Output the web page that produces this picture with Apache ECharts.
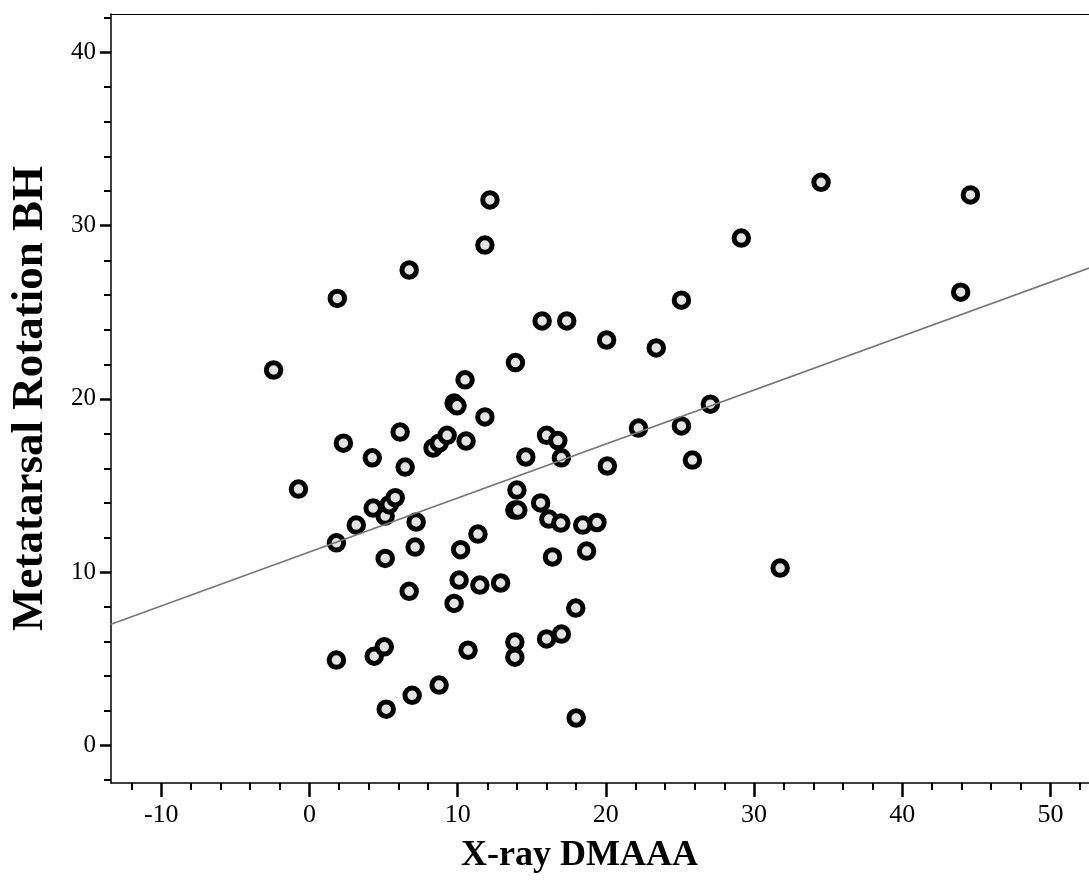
<!DOCTYPE html>
<html>
<head>
<meta charset="utf-8">
<script src="https://cdn.jsdelivr.net/npm/echarts@6/dist/echarts.min.js"></script>
<style>
html,body{margin:0;padding:0;background:#fff;}
#chart{width:1089px;height:881px;}
</style>
</head>
<body>
<div id="chart"></div>
<script>
// Data
var xValues = [-2.42,-0.74,1.88,1.82,1.82,2.29,3.16,4.24,4.30,4.37,5.11,5.38,5.79,5.11,5.05,5.18,6.12,6.46,6.73,6.73,7.20,7.13,6.93,8.34,8.75,9.29,8.75,9.76,9.96,9.76,10.10,10.20,10.50,10.57,10.70,11.37,11.50,11.84,11.84,12.18,12.90,13.90,14.00,13.86,14.06,13.86,13.86,14.60,15.70,15.60,16.00,16.15,16.00,16.40,16.76,17.00,16.96,17.00,17.36,17.97,18.00,18.44,18.70,19.40,20.05,20.10,22.20,23.40,25.10,25.10,25.84,27.05,29.14,31.76,34.52,43.94,44.60];
var yValues = [21.67,14.80,25.80,11.70,4.93,17.45,12.72,16.60,13.70,5.16,13.24,13.90,14.30,10.80,5.70,2.10,18.09,16.07,27.44,8.90,12.90,11.45,2.90,17.17,17.45,17.90,3.49,19.76,19.60,8.20,9.55,11.30,21.10,17.57,5.50,12.20,9.26,18.96,28.88,31.48,9.38,22.10,14.74,13.59,13.59,5.97,5.10,16.65,24.50,14.00,17.90,13.07,6.15,10.88,17.60,16.60,12.84,6.43,24.50,7.93,1.59,12.72,11.22,12.87,23.40,16.13,18.32,22.94,25.70,18.44,16.47,19.70,29.28,10.24,32.50,26.16,31.77];
// Fit line end points (as drawn in the reference)
var fitX = [-13.39, 52.6];
var fitY = [7.0, 27.55];
// Axis ticks
var xMajorTicks = [-10, 0, 10, 20, 30, 40, 50];
var xMinorTicks = [-12, -8, -6, -4, -2, 2, 4, 6, 8, 12, 14, 16, 18, 22, 24, 26, 28, 32, 34, 36, 38, 42, 44, 46, 48, 52];
var yMajorTicks = [0, 10, 20, 30, 40];
var yMinorTicks = [-2, 2, 4, 6, 8, 12, 14, 16, 18, 22, 24, 26, 28, 32, 34, 36, 38, 42];
var xRange = [-13.39, 52.6];
var yRange = [-2.16, 42.21];
var xTitle = 'X-ray DMAAA';
var yTitle = 'Metatarsal Rotation BH';

var points = xValues.map(function (x, i) { return [x, yValues[i]]; });
var fitLine = fitX.map(function (x, i) { return [x, fitY[i]]; });

var serif = '"Liberation Serif", "Times New Roman", serif';

var chart = echarts.init(document.getElementById('chart'));
chart.setOption({
  backgroundColor: '#ffffff',
  animation: false,
  grid: { left: 108, top: 14, right: 0, bottom: 98 },
  xAxis: [
    {
      type: 'value', min: xRange[0], max: xRange[1], position: 'bottom',
      name: xTitle, nameLocation: 'middle', nameGap: 55,
      nameTextStyle: { fontFamily: serif, fontWeight: 'bold', fontSize: 36, color: '#000', padding: [0, 41, 0, 0] },
      axisLine: { show: true, onZero: false, lineStyle: { color: '#000', width: 1.5 } },
      axisTick: { show: true, length: 14, inside: false, customValues: xMajorTicks, lineStyle: { color: '#000', width: 2.5 } },
      axisLabel: { show: true, customValues: xMajorTicks, fontFamily: serif, fontSize: 26, color: '#000', margin: 19 },
      splitLine: { show: false }
    },
    {
      type: 'value', min: xRange[0], max: xRange[1], position: 'bottom',
      axisLine: { show: false, onZero: false },
      axisTick: { show: true, length: 7, customValues: xMinorTicks, lineStyle: { color: '#000', width: 2 } },
      axisLabel: { show: false },
      splitLine: { show: false }
    },
    {
      type: 'value', min: xRange[0], max: xRange[1], position: 'top',
      axisLine: { show: true, onZero: false, lineStyle: { color: '#000', width: 1 } },
      axisTick: { show: false }, axisLabel: { show: false }, splitLine: { show: false }
    }
  ],
  yAxis: [
    {
      type: 'value', min: yRange[0], max: yRange[1], position: 'left',
      name: yTitle, nameLocation: 'middle', nameGap: 58, nameRotate: 90,
      nameTextStyle: { fontFamily: serif, fontWeight: 'bold', fontSize: 45, color: '#000' },
      axisLine: { show: true, onZero: false, lineStyle: { color: '#000', width: 1.5 } },
      axisTick: { show: true, length: 11, customValues: yMajorTicks, lineStyle: { color: '#000', width: 2.5 } },
      axisLabel: { show: true, customValues: yMajorTicks, fontFamily: serif, fontSize: 25, color: '#000', margin: 15 },
      splitLine: { show: false }
    },
    {
      type: 'value', min: yRange[0], max: yRange[1], position: 'left',
      axisLine: { show: false, onZero: false },
      axisTick: { show: true, length: 7, customValues: yMinorTicks, lineStyle: { color: '#000', width: 2 } },
      axisLabel: { show: false },
      splitLine: { show: false }
    }
  ],
  series: [
    {
      type: 'scatter', xAxisIndex: 0, yAxisIndex: 0, data: points,
      symbol: 'circle', symbolSize: 14.5,
      itemStyle: { color: '#e3e3e3', borderColor: '#000', borderWidth: 5, opacity: 1 },
      z: 2
    },
    {
      type: 'line', xAxisIndex: 0, yAxisIndex: 0, data: fitLine,
      showSymbol: false, symbol: 'none',
      lineStyle: { color: '#777', width: 1.6 },
      z: 3, silent: true
    }
  ]
});
</script>
</body>
</html>
